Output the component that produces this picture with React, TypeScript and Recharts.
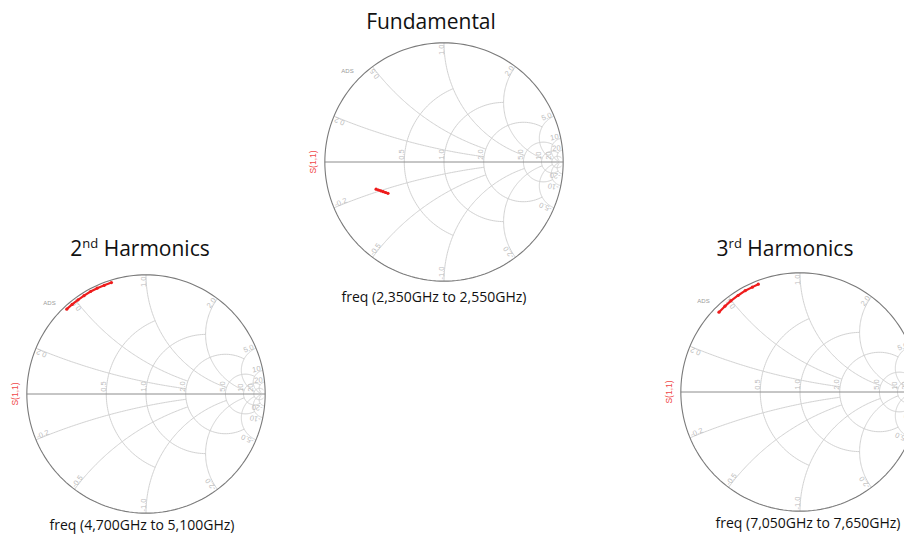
import React from 'react';
import { ScatterChart, Scatter, XAxis, YAxis } from 'recharts';

// S(1,1) reflection coefficient traces (real / imaginary parts)
const fundamentalRe = [-0.57, -0.55, -0.53, -0.51, -0.49, -0.47];
const fundamentalIm = [-0.228, -0.235, -0.242, -0.249, -0.256, -0.263];

const secondRe = [-0.665, -0.62, -0.57, -0.52, -0.465, -0.41, -0.35, -0.29];
const secondIm = [0.712, 0.752, 0.79, 0.825, 0.86, 0.888, 0.912, 0.935];

const thirdRe = [-0.68, -0.63, -0.58, -0.52, -0.46, -0.4, -0.35];
const thirdIm = [0.67, 0.72, 0.765, 0.81, 0.85, 0.88, 0.905];

// Chart titles and sweep captions
const titleFundamental = 'Fundamental';
const titleSecond = ['2', 'nd', ' Harmonics'];
const titleThird = ['3', 'rd', ' Harmonics'];
const sweepFundamental = 'freq (2,350GHz to 2,550GHz)';
const sweepSecond = 'freq (4,700GHz to 5,100GHz)';
const sweepThird = 'freq (7,050GHz to 7,650GHz)';

// Smith grid: constant-resistance circles and constant-reactance arcs
const resistanceValues = [0.5, 1, 2, 5, 10, 20];
const resistanceLimits = [1, 2, 5, 10, 20, 50];
const resistanceTicks = ['0.5', '1.0', '2.0', '5.0', '10', '20'];
const reactanceValues = [0.2, 0.5, 1, 2, 5, 10, 20];
const reactanceLimits = [2, 2, 5, 10, 20, 50, 50];
const reactanceTicks = ['0.2', '0.5', '1.0', '2.0', '5.0', '10', '20'];

const SIZE = 286;
const DOMAIN: [number, number] = [-1.2, 1.2];
const GRID = '#d2d2d2';
const LABEL = '#bdbdbd';
const RED = '#ee1c1c';
const SEG = 90;

type Pt = { x: number; y: number };

const gamma = (r: number, x: number): [number, number] => {
  const d = (r + 1) * (r + 1) + x * x;
  return [(r * r - 1 + x * x) / d, (2 * x) / d];
};

const norm = (a: number) => (a + 4 * Math.PI) % (2 * Math.PI);

function resistancePath(r: number, xmax: number): Pt[] {
  const c = r / (1 + r);
  const rho = 1 / (1 + r);
  let a0 = 0;
  if (isFinite(xmax)) {
    const [gx, gy] = gamma(r, xmax);
    a0 = Math.atan2(gy, gx - c);
  }
  const pts: Pt[] = [];
  for (let i = 0; i <= SEG; i++) {
    const a = a0 + ((2 * Math.PI - 2 * a0) * i) / SEG;
    pts.push({ x: c + rho * Math.cos(a), y: rho * Math.sin(a) });
  }
  return pts;
}

function reactancePath(x: number, rmax: number): Pt[] {
  const s = Math.sign(x);
  const ax = Math.abs(x);
  const cy = 1 / ax;
  const [px, py] = gamma(0, ax);
  const [qx, qy] = gamma(rmax, ax);
  const a0 = norm(Math.atan2(py - cy, px - 1));
  const a1 = norm(Math.atan2(qy - cy, qx - 1));
  const pts: Pt[] = [];
  for (let i = 0; i <= SEG; i++) {
    const a = a0 + ((a1 - a0) * i) / SEG;
    pts.push({ x: 1 + cy * Math.cos(a), y: s * (cy + cy * Math.sin(a)) });
  }
  return pts;
}

const unitCircle: Pt[] = Array.from({ length: 181 }, (_, i) => {
  const a = (i / 180) * 2 * Math.PI;
  return { x: Math.cos(a), y: Math.sin(a) };
});
const realAxis: Pt[] = [
  { x: -1, y: 0 },
  { x: 1, y: 0 },
];

type Tag = Pt & { text: string; rot: number; anchor: string; size: number; color: string };

function gridTags(): Tag[] {
  const tags: Tag[] = [];
  resistanceValues.forEach((r, i) => {
    tags.push({ x: (r - 1) / (r + 1) - 0.004, y: 0.018, text: resistanceTicks[i], rot: -90, anchor: 'start', size: 7.5, color: LABEL });
  });
  reactanceValues.forEach((x, i) => {
    const [gx, gy] = gamma(0, x);
    const th = Math.atan2(gy, gx);
    tags.push({ x: gx * 0.985, y: gy * 0.985, text: reactanceTicks[i], rot: -(th * 180) / Math.PI, anchor: 'end', size: 7.5, color: LABEL });
    const thn = -th;
    tags.push({
      x: Math.cos(thn) * 0.985,
      y: Math.sin(thn) * 0.985,
      text: '-' + reactanceTicks[i],
      rot: -(thn * 180) / Math.PI - 180,
      anchor: 'start',
      size: 7.5,
      color: LABEL,
    });
  });
  tags.push({ x: -0.81, y: 0.75, text: 'ADS', rot: 0, anchor: 'middle', size: 6, color: '#9a9a9a' });
  tags.push({ x: -1.07, y: 0, text: 'S(1,1)', rot: -90, anchor: 'middle', size: 8.5, color: '#f04848' });
  return tags;
}

const TagShape = (props: any) => {
  const p = props.payload ?? props;
  const { cx, cy } = props;
  return (
    <text
      x={cx}
      y={cy}
      transform={`rotate(${p.rot} ${cx} ${cy})`}
      textAnchor={p.anchor}
      fontSize={p.size}
      fill={p.color}
      fontFamily="'Liberation Sans', Arial, sans-serif"
    >
      {p.text}
    </text>
  );
};

const NoDot = () => <g />;
const TraceDot = (props: any) => <circle cx={props.cx} cy={props.cy} r={1.6} fill={RED} />;

const resistanceGrid = resistanceValues.map((r, i) => resistancePath(r, resistanceLimits[i]));
const reactanceGrid = reactanceValues.flatMap((x, i) => [
  reactancePath(x, reactanceLimits[i]),
  reactancePath(-x, reactanceLimits[i]),
]);
const tags = gridTags();

function SmithChart({ re, im, left, top }: { re: number[]; im: number[]; left: number; top: number }) {
  const trace = re.map((v, i) => ({ x: v, y: im[i] }));
  return (
    <div style={{ position: 'absolute', left, top, width: SIZE, height: SIZE }}>
      <ScatterChart width={SIZE} height={SIZE} margin={{ top: 0, right: 0, bottom: 0, left: 0 }}>
        <XAxis type="number" dataKey="x" domain={DOMAIN} hide allowDataOverflow />
        <YAxis type="number" dataKey="y" domain={DOMAIN} hide allowDataOverflow />
        {resistanceGrid.map((pts, i) => (
          <Scatter
            key={'r' + i}
            data={pts}
            shape={NoDot}
            line={{ stroke: GRID, strokeWidth: 1, fill: 'none' }}
            isAnimationActive={false}
            legendType="none"
          />
        ))}
        {reactanceGrid.map((pts, i) => (
          <Scatter
            key={'x' + i}
            data={pts}
            shape={NoDot}
            line={{ stroke: GRID, strokeWidth: 1, fill: 'none' }}
            isAnimationActive={false}
            legendType="none"
          />
        ))}
        <Scatter
          data={realAxis}
          shape={NoDot}
          line={{ stroke: '#8c8c8c', strokeWidth: 1, fill: 'none' }}
          isAnimationActive={false}
          legendType="none"
        />
        <Scatter
          data={unitCircle}
          shape={NoDot}
          line={{ stroke: '#7a7a7a', strokeWidth: 1.1, fill: 'none' }}
          isAnimationActive={false}
          legendType="none"
        />
        <Scatter data={tags} shape={TagShape} isAnimationActive={false} legendType="none" />
        <Scatter
          data={trace}
          shape={TraceDot}
          line={{ stroke: RED, strokeWidth: 2.2, fill: 'none' }}
          isAnimationActive={false}
          legendType="none"
        />
      </ScatterChart>
    </div>
  );
}

const titleFont = "'Open Sans', 'DejaVu Sans', sans-serif";

function Harmonic({ parts, x, y }: { parts: string[]; x: number; y: number }) {
  return (
    <text x={x} y={y} textAnchor="middle" fontSize={21} fontFamily={titleFont} fill="#111">
      <tspan>{parts[0]}</tspan>
      <tspan dy={-8} fontSize={13}>
        {parts[1]}
      </tspan>
      <tspan dy={8}>{parts[2]}</tspan>
    </text>
  );
}

export default function App() {
  const half = SIZE / 2;
  return (
    <div
      style={{
        position: 'absolute',
        left: 0,
        top: 0,
        width: 904,
        height: 535,
        overflow: 'hidden',
        background: '#fff',
      }}
    >
      <SmithChart re={fundamentalRe} im={fundamentalIm} left={444 - half} top={162 - half} />
      <SmithChart re={secondRe} im={secondIm} left={146 - half} top={393.5 - half} />
      <SmithChart re={thirdRe} im={thirdIm} left={800 - half} top={392 - half} />
      <svg
        width={904}
        height={535}
        style={{ position: 'absolute', left: 0, top: 0, pointerEvents: 'none' }}
      >
        <text x={431} y={29} textAnchor="middle" fontSize={21} fontFamily={titleFont} fill="#111">
          {titleFundamental}
        </text>
        <Harmonic parts={titleSecond} x={140} y={256} />
        <Harmonic parts={titleThird} x={785} y={256} />
        <text x={434} y={302} textAnchor="middle" fontSize={14} fontFamily={titleFont} fill="#111">
          {sweepFundamental}
        </text>
        <text x={142} y={530} textAnchor="middle" fontSize={14} fontFamily={titleFont} fill="#111">
          {sweepSecond}
        </text>
        <text x={808} y={528} textAnchor="middle" fontSize={14} fontFamily={titleFont} fill="#111">
          {sweepThird}
        </text>
      </svg>
    </div>
  );
}
